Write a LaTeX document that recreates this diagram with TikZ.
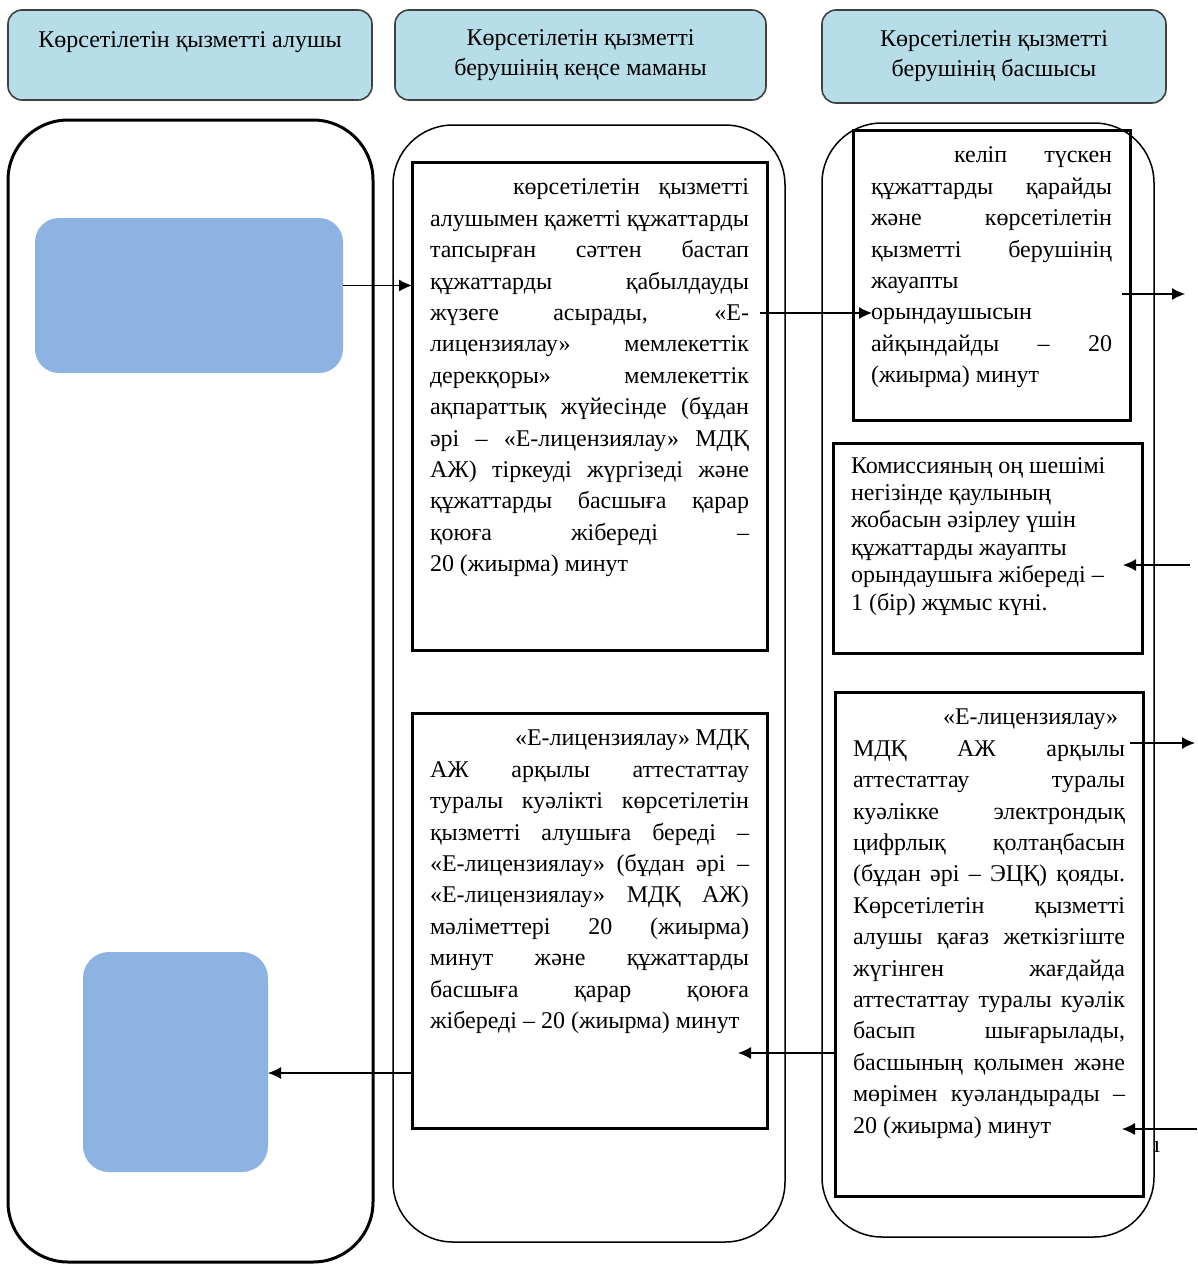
\documentclass[tikz,border=0pt]{standalone}
\usepackage{fontspec}
\setmainfont{Liberation Serif}
\usepackage{xcolor}
\usetikzlibrary{arrows.meta}
\usetikzlibrary{calc}

\definecolor{headfill}{RGB}{183,221,232}
\definecolor{userfill}{RGB}{141,179,226}

\newcommand{\boxfont}{\fontsize{12}{15.7}\selectfont
  \hyphenpenalty=10000\relax \exhyphenpenalty=10000\relax
  \tolerance=10000\relax \hbadness=10000\relax}

\tikzset{
  head/.style={draw=black!75, fill=headfill, rounded corners=7pt, line width=0.8pt,
    anchor=north west, align=center, inner sep=0pt, outer sep=0pt,
    font=\fontsize{12}{15}\selectfont},
  lane/.style={rounded corners=30pt, line width=0.75pt},
  userbox/.style={fill=userfill, rounded corners=12pt, anchor=north west,
    inner sep=0pt, outer sep=0pt},
  actbox/.style={draw, line width=1.5pt, anchor=north west, inner xsep=9pt,
    inner ysep=5.5pt, outer sep=0pt, font=\boxfont},
  arr/.style={-{Latex[length=6.5pt,width=6pt]}, line width=0.6pt}
}

\begin{document}
\begin{tikzpicture}[x=0.5pt, y=-0.5pt]
        \useasboundingbox (0,0) rectangle (1198,1264);

        % swimlanes
        \draw[lane, line width=1.5pt] (8,120) rectangle (373,1262);
        \draw[lane] (393,125) rectangle (785,1242);
        \draw[lane] (822,123) rectangle (1154,1237);

        % lane titles
        \node[head, minimum width=182pt, minimum height=45pt] (h1) at (8,10)
            {Көрсетілетін қызметті алушы\\\mbox{}};
        \node[head, minimum width=185.5pt, minimum height=45pt] (h2) at (395,10)
            {Көрсетілетін қызметті\\берушінің кеңсе маманы};
        \node[head, minimum width=172pt, minimum height=46.5pt] (h3) at (822,10)
            {Көрсетілетін қызметті\\берушінің басшысы};

        % service receiver
        \node[userbox, minimum width=154pt, minimum height=77.5pt] (b1) at (35,218) {};
        \node[userbox, rounded corners=13pt, minimum width=92.5pt, minimum height=110pt] (b2) at (83,952) {};

        % office clerk
        \node[actbox] (boxA) at (412,162) {\parbox[t][233pt][t]{159.5pt}{\strut\hspace*{41.5pt}көрсетілетін қызметті\linebreak
            алушымен қажетті құжаттарды\linebreak
            тапсырған сәттен бастап\linebreak
            құжаттарды қабылдауды\linebreak
            жүзеге асырады, «Е-\linebreak
            лицензиялау» мемлекеттік\linebreak
            дерекқоры» мемлекеттік\linebreak
            ақпараттық жүйесінде (бұдан\linebreak
            әрі – «Е-лицензиялау» МДҚ\linebreak
            АЖ) тіркеуді жүргізеді және\linebreak
            құжаттарды басшыға қарар\linebreak
            қоюға жібереді –\linebreak
            20 (жиырма) минут}};
        \node[actbox] (boxB) at (412,713) {\parbox[t][196.5pt][t]{159.5pt}{\strut\hspace*{42.5pt}«Е-лицензиялау» МДҚ\linebreak
            АЖ арқылы аттестаттау\linebreak
            туралы куәлікті көрсетілетін\linebreak
            қызметті алушыға береді –\linebreak
            «Е-лицензиялау» (бұдан әрі –\linebreak
            «Е-лицензиялау» МДҚ АЖ)\linebreak
            мәліметтері 20 (жиырма)\linebreak
            минут және құжаттарды\linebreak
            басшыға қарар қоюға\linebreak
            жібереді – 20 (жиырма) минут}};

        % head of provider
        \node[actbox] (boxC) at (853,130) {\parbox[t][134pt][t]{120.5pt}{\strut\hspace*{41.5pt}келіп түскен\linebreak
            құжаттарды қарайды\linebreak
            және көрсетілетін\linebreak
            қызметті берушінің\linebreak
            жауапты\linebreak
            орындаушысын\linebreak
            айқындайды – 20\linebreak
            (жиырма) минут}};
        \node[actbox, font=\fontsize{12}{13.7}\selectfont] (boxD) at (833,443) {\parbox[t][94pt][t]{136.5pt}{\raggedright\strut Комиссияның оң шешімі\\
            негізінде қаулының\\
            жобасын әзірлеу үшін\\
            құжаттарды жауапты\\
            орындаушыға жібереді –\\
            1 (бір) жұмыс күні.}};
        \node[actbox] (boxE) at (835,692) {\parbox[t][241pt][t]{136pt}{\strut\hspace*{45pt}«Е-лицензиялау»\linebreak
            МДҚ АЖ арқылы\linebreak
            аттестаттау туралы\linebreak
            куәлікке электрондық\linebreak
            цифрлық қолтаңбасын\linebreak
            (бұдан әрі – ЭЦҚ) қояды.\linebreak
            Көрсетілетін қызметті\linebreak
            алушы қағаз жеткізгіште\linebreak
            жүгінген жағдайда\linebreak
            аттестаттау туралы куәлік\linebreak
            басып шығарылады,\linebreak
            басшының қолымен және\linebreak
            мөрімен куәландырады –\linebreak
            20 (жиырма) минут}};
        \node[font=\fontsize{12}{14}\selectfont, inner sep=0pt] (stray) at (1157,1147) {ı};

        % arrows
        \draw[arr] ([yshift=5pt]b1.east) -- ([yshift=5pt]b1.east -| boxA.west);
        \draw[arr] ($(boxA.north east)+(-7,151)$) -- ($(boxC.north west)+(19,183)$);
        \draw[arr] ($(boxC.north east)+(-8,164)$) -- ($(boxC.north east)+(55,164)$);
        \draw[arr] ($(boxD.north east)+(48,122)$) -- ($(boxD.north east)+(-19,122)$);
        \draw[arr] ($(boxE.north east)+(-13,51)$) -- ($(boxE.north east)+(52,51)$);
        \draw[arr] ($(boxE.north east)+(54,437)$) -- ($(boxE.north east)+(-21,437)$);
        \draw[arr] ($(boxE.north west)+(0,361)$) -- ($(boxB.north east)+(-29,340)$);
        \draw[arr] ([yshift=-5.5pt]b2.east -| boxB.west) -- ([yshift=-5.5pt]b2.east);
\end{tikzpicture}
\end{document}
